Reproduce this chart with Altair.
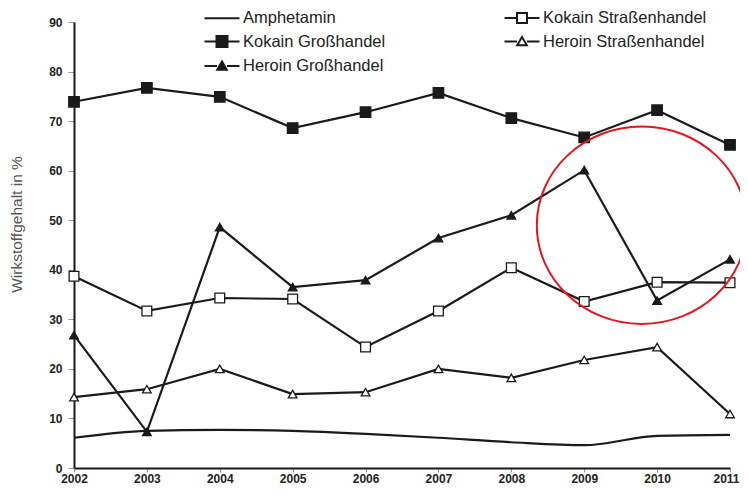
import altair as alt
import pandas as pd

years = [2002, 2003, 2004, 2005, 2006, 2007, 2008, 2009, 2010, 2011]
amphetamin = [6.1, 7.5, 7.7, 7.5, 6.9, 6.1, 5.2, 4.6, 6.5, 6.7]
kokain_gross = [73.9, 76.7, 74.9, 68.6, 71.8, 75.7, 70.6, 66.7, 72.2, 65.2]
kokain_strasse = [38.7, 31.7, 34.3, 34.1, 24.4, 31.7, 40.4, 33.6, 37.5, 37.4]
heroin_gross = [26.8, 7.3, 48.6, 36.5, 37.9, 46.4, 51.0, 60.1, 33.8, 42.1]
heroin_strasse = [14.3, 15.9, 20.0, 14.9, 15.3, 20.0, 18.2, 21.8, 24.4, 10.9]

# legend order (column-major, two columns)
series_names = ["Amphetamin", "Kokain Großhandel", "Heroin Großhandel",
                "Kokain Straßenhandel", "Heroin Straßenhandel"]
series_values = [amphetamin, kokain_gross, heroin_gross, kokain_strasse, heroin_strasse]

# annotation ellipse (center in data units)
ring_year = [2009.79]
ring_value = [49.0]

y_ticks = [0, 10, 20, 30, 40, 50, 60, 70, 80, 90]

rows = []
for name, vals in zip(series_names, series_values):
    for yr, v in zip(years, vals):
        rows.append({"series": name, "year": yr, "value": v})
df = pd.DataFrame(rows)

INK = "#1a1a1a"
FONT = "Liberation Sans"

x_enc = alt.X("year:Q",
              scale=alt.Scale(domain=[2002, 2011], nice=False, zero=False),
              axis=alt.Axis(values=years, format="d", title=None, grid=False,
                            labelFontSize=12, labelPadding=1, tickSize=4,
                            labelFlush=False,
                            labelAlign={"condition": {"test": "datum.value == 2011", "value": "right"},
                                        "value": "center"},
                            labelOffset={"condition": {"test": "datum.value == 2011", "value": 9},
                                         "value": 0}))
y_enc = alt.Y("value:Q",
              scale=alt.Scale(domain=[0, 90], nice=False),
              axis=alt.Axis(values=y_ticks, title="Wirkstoffgehalt in %", grid=False,
                            labelFontSize=12, labelPadding=6, tickSize=6,
                            labelFlush=False,
                            titleFontSize=15.5, titleFontWeight="normal", titleColor="#555",
                            titleX=-58, titleY=202, titleAlign="center",
                            titleBaseline="middle", titleAngle=-90))

base = alt.Chart(df)

amph_line = base.transform_filter(alt.datum.series == "Amphetamin").mark_line(
    color=INK, strokeWidth=2.2, interpolate="monotone").encode(x=x_enc, y=y_enc)

other_lines = base.transform_filter(alt.datum.series != "Amphetamin").mark_line(
    color=INK, strokeWidth=2.2).encode(x=x_enc, y=y_enc, detail="series:N")

marker_specs = {
    "Kokain Großhandel": ("square", INK, 110),
    "Kokain Straßenhandel": ("square", "white", 95),
    "Heroin Großhandel": ("triangle-up", INK, 75),
    "Heroin Straßenhandel": ("triangle-up", "white", 75),
}
point_layers = []
for name, (shape, fill, size) in marker_specs.items():
    point_layers.append(
        base.transform_filter(alt.datum.series == name).mark_point(
            shape=shape, filled=True, fill=fill, stroke=INK, strokeWidth=1.3,
            size=size, opacity=1).encode(x=x_enc, y=y_enc)
    )

# legend symbols: line with marker (unit = 10 px)
seg = "M -1.75 0 L -0.5 0 M 0.5 0 L 1.75 0 "
legend_paths = [
    "M -1.75 0 L 1.75 0",
    seg + "M -0.55 -0.55 L 0.55 -0.55 L 0.55 0.55 L -0.55 0.55 Z",
    seg + "M 0 -0.45 L 0.48 0.38 L -0.48 0.38 Z",
    seg + "M -0.5 -0.5 L 0.5 -0.5 L 0.5 0.5 L -0.5 0.5 Z",
    seg + "M 0 -0.45 L 0.48 0.38 L -0.48 0.38 Z",
]
legend_fills = [INK, INK, INK, "white", "white"]
legend_strokes = [INK] * 5

legend_df = pd.DataFrame({"series": series_names,
                          "year": [None] * 5, "value": [None] * 5})
legend_layer = alt.Chart(legend_df).mark_point(
    filled=True, strokeWidth=2, size=400, opacity=1).encode(
    x=x_enc, y=y_enc,
    shape=alt.Shape("series:N", scale=alt.Scale(domain=series_names, range=legend_paths),
                    legend=alt.Legend(title=None)),
    fill=alt.Fill("series:N", scale=alt.Scale(domain=series_names, range=legend_fills),
                  legend=alt.Legend(title=None)),
    stroke=alt.Stroke("series:N", scale=alt.Scale(domain=series_names, range=legend_strokes),
                      legend=alt.Legend(title=None)),
)

ring_df = pd.DataFrame({"year": ring_year, "value": ring_value})
ring = alt.Chart(ring_df).mark_point(
    shape="M -1 0 A 1 0.94 0 1 1 1 0 A 1 0.94 0 1 1 -1 0 Z",
    size=44100, filled=False, stroke="#e3161e", strokeWidth=2, opacity=1,
    clip=False).encode(x=x_enc, y=y_enc)

chart = alt.layer(amph_line, other_lines, *point_layers, legend_layer, ring).properties(
    width=656, height=446,
    autosize=alt.AutoSizeParams(type="none"),
    padding={"left": 66, "top": 14, "right": 10, "bottom": 16},
).configure_view(stroke=None).configure_axis(
    labelFont=FONT, titleFont=FONT, labelColor="#222", labelFontWeight="bold",
    domainColor=INK, domainWidth=2, tickColor="#999", tickWidth=1,
).configure_legend(
    orient="none", legendX=137, legendY=-15, columns=2,
    columnPadding=114, rowPadding=3.5, padding=0, labelLimit=400,
    labelFont=FONT, labelFontSize=16.5, labelColor="#222", labelOffset=10,
    symbolSize=400, symbolStrokeWidth=2, symbolStrokeColor=INK,
)

chart.save("out.html", embed_options={"renderer": "svg", "actions": False})
